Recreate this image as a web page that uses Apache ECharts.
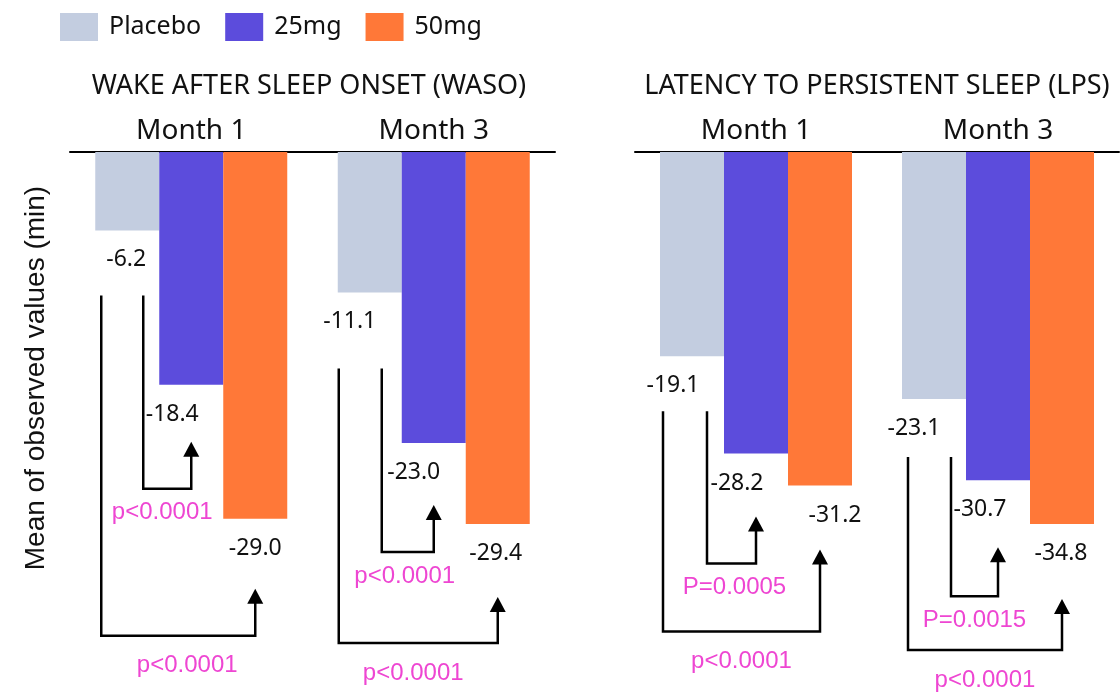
<!DOCTYPE html>
<html>
<head>
<meta charset="utf-8">
<script src="https://cdn.jsdelivr.net/npm/echarts@6/dist/echarts.min.js"></script>
<style>html,body{margin:0;padding:0;background:#fff;}#main{width:1120px;height:694px;}</style>
</head>
<body>
<div id="main"></div>
<script>
// ---- data ----
const categories = ['Month 1', 'Month 3'];
const seriesNames = ['Placebo', '25mg', '50mg'];
const panelTitles = ['WAKE AFTER SLEEP ONSET (WASO)', 'LATENCY TO PERSISTENT SLEEP (LPS)'];
const wasoPlacebo = [-6.2, -11.1];
const waso25 = [-18.4, -23.0];
const waso50 = [-29.0, -29.4];
const lpsPlacebo = [-19.1, -23.1];
const lps25 = [-28.2, -30.7];
const lps50 = [-31.2, -34.8];
const innerP = ['p<0.0001', 'p<0.0001', 'P=0.0005', 'P=0.0015'];
const outerP = ['p<0.0001', 'p<0.0001', 'p<0.0001', 'p<0.0001'];
const yAxisName = 'Mean of observed values (min)';

// ---- styles / layout ----
const colors = ['#C3CDE0', '#5C4CDC', '#FF7838'];
const pink = '#EE46D2';
// label x offsets per panel/series/category
const labelDx = [
  [[-1, -20], [-19, -20], [0, -2]],
  [[-19, -20], [-19, -18], [15, -1]]
];
// bracket layout per group (order: WASO M1, WASO M3, LPS M1, LPS M3)
const bracketLayout = [
  {outerDx: -26, innerDx: 16, startGap: 65, innerTip: 57, innerDepth: 47, outerTip: 70, outerDepth: 47, innerTxtDx: -5, outerTxtDx: 9},
  {outerDx: -31, innerDx: 12, startGap: 76, innerTip: 62, innerDepth: 47, outerTip: 73, outerDepth: 46, innerTxtDx: -3, outerTxtDx: -5},
  {outerDx: -29, innerDx: 15, startGap: 55, innerTip: 63, innerDepth: 47, outerTip: 64, outerDepth: 82, innerTxtDx: 3, outerTxtDx: 0},
  {outerDx: -26, innerDx: 17, startGap: 58, innerTip: 67, innerDepth: 49, outerTip: 75, outerDepth: 51, innerTxtDx: 0, outerTxtDx: 0}
];

const panelData = [[wasoPlacebo, waso25, waso50], [lpsPlacebo, lps25, lps50]];

const chart = echarts.init(document.getElementById('main'));

const series = [];
panelData.forEach((arrs, p) => {
  arrs.forEach((arr, s) => {
    series.push({
      name: seriesNames[s],
      type: 'bar',
      xAxisIndex: p,
      yAxisIndex: p,
      barWidth: 64,
      barGap: '0%',
      itemStyle: {color: colors[s]},
      label: {
        show: true,
        position: 'bottom',
        distance: 18,
        fontSize: 23,
        fontFamily: 'Noto Sans',
        color: '#111',
        formatter: (d) => d.value.toFixed(1)
      },
      data: arr.map((v, c) => ({value: v, label: {offset: [labelDx[p][s][c], 0]}}))
    });
  });
});

chart.setOption({
  animation: false,
  legend: {
    data: seriesNames,
    left: 55,
    top: 8,
    itemWidth: 38,
    itemHeight: 28,
    itemGap: 24,
    icon: 'rect',
    textStyle: {fontSize: 25, fontFamily: 'Noto Sans', color: '#111', padding: [0, 0, 0, 6]}
  },
  grid: [
    {left: 70, width: 485, top: 152, height: 506},
    {left: 635, width: 484, top: 152, height: 506}
  ],
  xAxis: [0, 1].map(i => ({
    type: 'category',
    gridIndex: i,
    position: 'top',
    data: categories,
    axisLine: {show: true, lineStyle: {color: '#000', width: 2}},
    axisTick: {show: false},
    axisLabel: {fontSize: 28, fontFamily: 'Noto Sans', color: '#111', margin: 7}
  })),
  yAxis: [
    {type: 'value', gridIndex: 0, min: -40, max: 0, show: false},
    {type: 'value', gridIndex: 1, min: -47.33, max: 0, show: false}
  ],
  series: series,
  graphic: []
});

// ---- brackets computed from the library's bar layouts ----
const graphics = [];
graphics.push({
  type: 'text', x: 36, y: 378, rotation: Math.PI / 2,
  style: {text: yAxisName, fontSize: 28, fontFamily: 'Liberation Sans', fill: '#111', align: 'center', verticalAlign: 'middle'}
});
graphics.push({
  type: 'text', x: 309, y: 86,
  style: {text: panelTitles[0], fontSize: 27, fontFamily: 'Noto Sans', fill: '#111', align: 'center', verticalAlign: 'middle'}
});
graphics.push({
  type: 'text', x: 877, y: 86,
  style: {text: panelTitles[1], fontSize: 27, fontFamily: 'Noto Sans', fill: '#111', align: 'center', verticalAlign: 'middle'}
});

const model = chart.getModel();
function barInfo(seriesIdx, c) {
  const lay = model.getSeriesByIndex(seriesIdx).getData().getItemLayout(c);
  const cx = lay.x + lay.width / 2;
  const bottom = Math.max(lay.y, lay.y + lay.height);
  return {cx, bottom};
}
function arrowHead(x, tipY) {
  return {type: 'polygon', shape: {points: [[x, tipY], [x - 8, tipY + 15], [x + 8, tipY + 15]]}, style: {fill: '#000'}};
}
let g = 0;
for (let p = 0; p < 2; p++) {
  for (let c = 0; c < 2; c++) {
    const L = bracketLayout[g];
    const pl = barInfo(p * 3, c), m25 = barInfo(p * 3 + 1, c), m50 = barInfo(p * 3 + 2, c);
    const startY = pl.bottom + L.startGap;
    // inner bracket: placebo vs 25mg
    const ix0 = pl.cx + L.innerDx, ix1 = m25.cx;
    const iTip = m25.bottom + L.innerTip, iBot = iTip + L.innerDepth;
    graphics.push({type: 'polyline', shape: {points: [[ix0, startY], [ix0, iBot], [ix1, iBot], [ix1, iTip + 10]]}, style: {stroke: '#000', lineWidth: 2.5, fill: null}});
    graphics.push(arrowHead(ix1, iTip));
    graphics.push({type: 'text', x: (ix0 + ix1) / 2 + L.innerTxtDx, y: iBot + 24, style: {text: innerP[g], fontSize: 24, fontFamily: 'Liberation Sans', fill: pink, align: 'center', verticalAlign: 'middle'}});
    // outer bracket: placebo vs 50mg
    const ox0 = pl.cx + L.outerDx, ox1 = m50.cx;
    const oTip = m50.bottom + L.outerTip, oBot = oTip + L.outerDepth;
    graphics.push({type: 'polyline', shape: {points: [[ox0, startY], [ox0, oBot], [ox1, oBot], [ox1, oTip + 10]]}, style: {stroke: '#000', lineWidth: 2.5, fill: null}});
    graphics.push(arrowHead(ox1, oTip));
    graphics.push({type: 'text', x: (ox0 + ox1) / 2 + L.outerTxtDx, y: oBot + 30, style: {text: outerP[g], fontSize: 24, fontFamily: 'Liberation Sans', fill: pink, align: 'center', verticalAlign: 'middle'}});
    g++;
  }
}
chart.setOption({graphic: graphics});
</script>
</body>
</html>
